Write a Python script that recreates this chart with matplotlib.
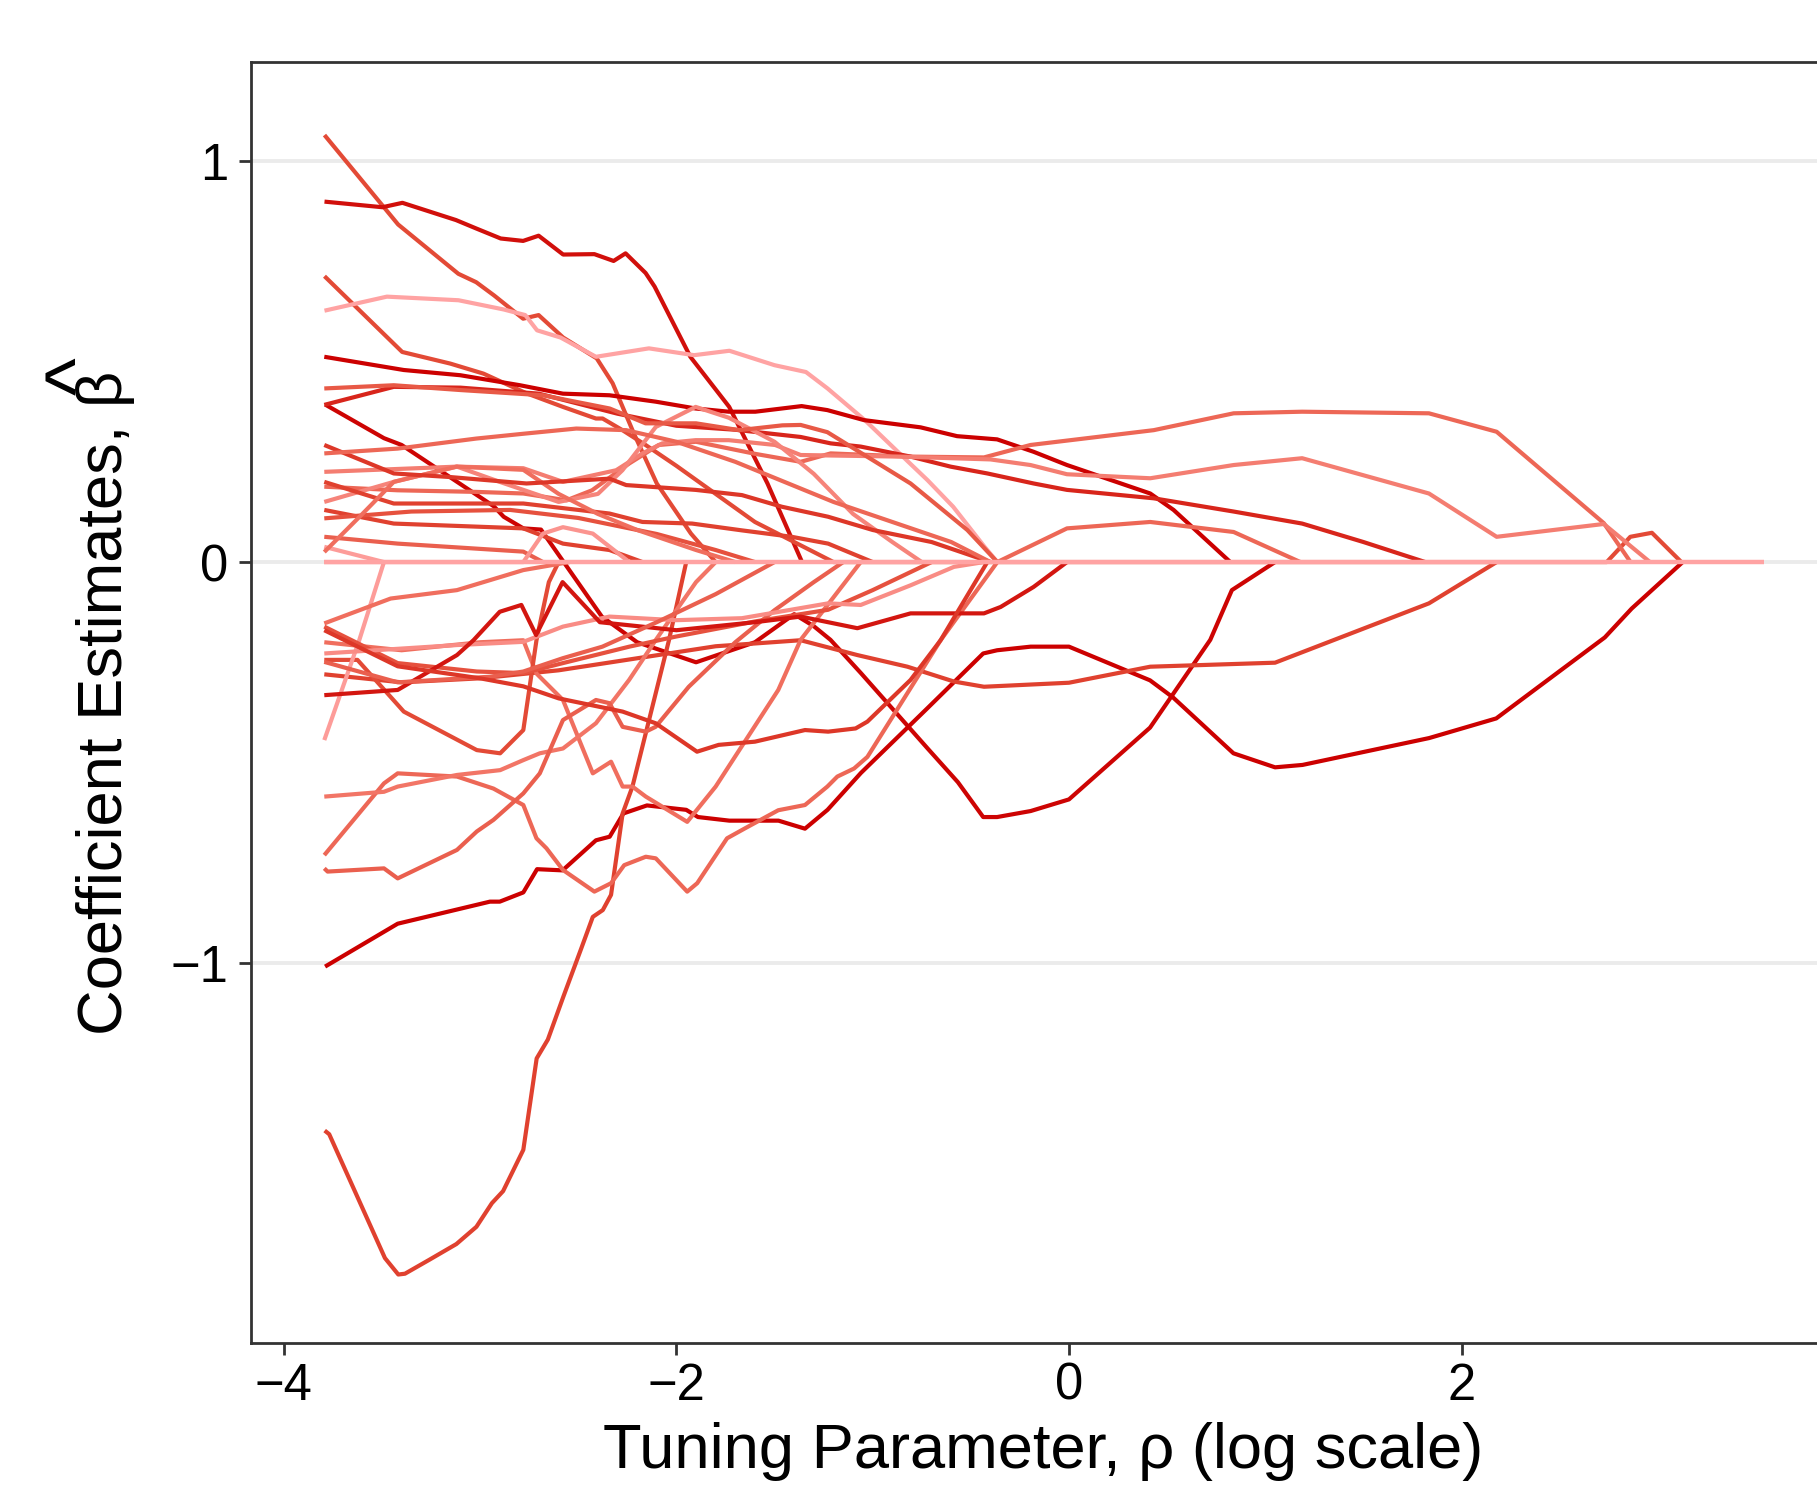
"""Lasso-style coefficient paths against log tuning parameter."""

import numpy as np
import matplotlib.pyplot as plt
from matplotlib.colors import LinearSegmentedColormap

plt.rcParams['font.family'] = ['Liberation Sans', 'DejaVu Sans']

# coefficient paths, (log rho, beta) knots
path_01 = [(-3.793, 1.065), (-3.418, 0.842), (-3.111, 0.719), (-3.02, 0.698), (-2.929, 0.665),
           (-2.781, 0.607), (-2.702, 0.616), (-2.577, 0.56), (-2.406, 0.508), (-2.325, 0.446),
           (-2.217, 0.321), (-2.1, 0.196), (-1.926, 0.071), (-1.8, 0.0)]
path_02 = [(-3.793, 0.899), (-3.498, 0.885), (-3.396, 0.896), (-3.123, 0.853), (-3.02, 0.832),
           (-2.895, 0.807), (-2.781, 0.801), (-2.702, 0.814), (-2.577, 0.767), (-2.418, 0.768),
           (-2.32, 0.751), (-2.259, 0.77), (-2.157, 0.721), (-2.111, 0.687), (-1.929, 0.512),
           (-1.731, 0.387), (-1.536, 0.196), (-1.36, 0.0)]
path_03 = [(-3.793, 0.713), (-3.397, 0.524), (-3.152, 0.495), (-2.983, 0.47), (-2.764, 0.421),
           (-2.578, 0.387), (-2.41, 0.358), (-2.376, 0.358), (-2.275, 0.329), (-2.157, 0.292),
           (-2.0, 0.24), (-1.8, 0.17), (-1.6, 0.1), (-1.4, 0.05), (-1.2, 0.0), (2.74, 0.0),
           (2.86, 0.063), (2.97, 0.073), (3.12, 0.0)]
path_04 = [(-3.793, 0.627), (-3.475, 0.662), (-3.11, 0.653), (-2.88, 0.63), (-2.77, 0.616),
           (-2.71, 0.578), (-2.59, 0.56), (-2.41, 0.512), (-2.14, 0.533), (-1.91, 0.516),
           (-1.73, 0.527), (-1.5, 0.491), (-1.34, 0.474), (-1.23, 0.433), (-1.04, 0.354),
           (-0.81, 0.246), (-0.72, 0.204), (-0.59, 0.138), (-0.43, 0.038), (-0.365, 0.0)]
path_05 = [(-3.794, 0.512), (-3.389, 0.479), (-3.101, 0.466), (-2.797, 0.441), (-2.578, 0.42),
           (-2.341, 0.416), (-2.105, 0.4), (-1.902, 0.383), (-1.733, 0.375), (-1.598, 0.375),
           (-1.362, 0.389), (-1.231, 0.379), (-1.044, 0.354), (-0.756, 0.336), (-0.57, 0.314),
           (-0.366, 0.306), (-0.18, 0.275), (-0.01, 0.242), (0.414, 0.171), (0.533, 0.13),
           (0.822, 0.0)]
path_06 = [(-3.79, 0.393), (-3.49, 0.309), (-3.40, 0.292), (-2.93, 0.139), (-2.88, 0.113),
           (-2.78, 0.084), (-2.69, 0.081), (-2.57, -0.003), (-2.38, -0.136), (-2.2, -0.2),
           (-1.9, -0.25), (-1.6, -0.2), (-1.4, -0.13), (-1.3, -0.16), (-1.215, -0.194),
           (-1.06, -0.277), (-0.72, -0.465), (-0.566, -0.549), (-0.437, -0.636), (-0.366, -0.636),
           (-0.195, -0.621), (0.0, -0.592), (0.413, -0.413), (0.72, -0.194), (0.83, -0.07),
           (1.05, 0.0)]
path_07 = [(-3.79, -1.009), (-3.42, -0.902), (-2.95, -0.847), (-2.90, -0.847), (-2.78, -0.824),
           (-2.71, -0.766), (-2.58, -0.769), (-2.41, -0.694), (-2.34, -0.685), (-2.27, -0.627),
           (-2.15, -0.607), (-1.95, -0.618), (-1.89, -0.636), (-1.73, -0.645), (-1.48, -0.645),
           (-1.345, -0.665), (-1.23, -0.618), (-1.06, -0.526), (-0.72, -0.364), (-0.437, -0.228),
           (-0.366, -0.22), (-0.195, -0.211), (0.0, -0.211), (0.413, -0.295), (0.531, -0.338),
           (0.838, -0.477), (1.05, -0.512), (1.19, -0.506), (1.835, -0.439), (2.177, -0.39),
           (2.73, -0.188), (2.867, -0.116), (3.127, 0.0)]
path_08 = [(-3.792, -1.418), (-3.769, -1.427), (-3.485, -1.736), (-3.417, -1.777), (-3.383, -1.775),
           (-3.258, -1.74), (-3.121, -1.701), (-3.019, -1.658), (-2.94, -1.599), (-2.883, -1.569),
           (-2.78, -1.466), (-2.712, -1.238), (-2.655, -1.191), (-2.576, -1.084), (-2.485, -0.964),
           (-2.426, -0.885), (-2.375, -0.868), (-2.333, -0.83), (-2.274, -0.627), (-2.224, -0.56),
           (-2.038, -0.195), (-1.95, 0.0)]
path_09 = [(-3.794, 0.188), (-3.42, 0.179), (-3.02, 0.175), (-2.78, 0.171), (-2.56, 0.154),
           (-2.43, 0.179), (-2.24, 0.246), (-2.09, 0.292), (-1.9, 0.3), (-1.6, 0.27),
           (-1.367, 0.25), (-1.214, 0.271), (-0.807, 0.263), (-0.433, 0.261), (-0.196, 0.292),
           (0.432, 0.329), (0.839, 0.371), (1.188, 0.375), (1.834, 0.371), (2.179, 0.325),
           (2.725, 0.097), (2.861, 0.0)]
path_10 = [(-3.794, 0.392), (-3.44, 0.437), (-3.1, 0.435), (-2.7, 0.42), (-2.3, 0.37),
           (-2.0, 0.34), (-1.7, 0.33), (-1.367, 0.312), (-1.214, 0.296), (-1.061, 0.288),
           (-0.807, 0.263), (-0.603, 0.238), (-0.416, 0.221), (-0.18, 0.196), (-0.01, 0.18),
           (0.432, 0.159), (0.839, 0.126), (1.188, 0.096), (1.5, 0.05), (1.815, 0.0)]
path_11 = [(-3.794, 0.225), (-3.118, 0.238), (-2.78, 0.234), (-2.578, 0.2), (-2.307, 0.229),
           (-2.173, 0.271), (-2.072, 0.296), (-1.902, 0.304), (-1.733, 0.304), (-1.497, 0.292),
           (-1.367, 0.267), (-0.858, 0.263), (-0.4, 0.256), (-0.196, 0.242), (-0.01, 0.219),
           (0.414, 0.209), (0.839, 0.242), (1.188, 0.259), (1.834, 0.171), (2.179, 0.063),
           (2.725, 0.095), (2.96, 0.0)]
path_12 = [(-3.794, -0.28), (-3.4, -0.3), (-3.0, -0.29), (-2.6, -0.27), (-2.2, -0.24),
           (-1.8, -0.21), (-1.367, -0.195), (-1.078, -0.232), (-0.823, -0.261), (-0.586, -0.298),
           (-0.433, -0.311), (0.0, -0.301), (0.414, -0.261), (1.05, -0.251), (1.834, -0.103),
           (2.179, 0.0)]
path_13 = [(-3.794, -0.731), (-3.49, -0.552), (-3.42, -0.527), (-3.118, -0.535), (-2.932, -0.565),
           (-2.78, -0.606), (-2.713, -0.689), (-2.662, -0.714), (-2.578, -0.768), (-2.418, -0.822),
           (-2.333, -0.801), (-2.266, -0.756), (-2.156, -0.735), (-2.105, -0.739), (-1.945, -0.822),
           (-1.894, -0.801), (-1.742, -0.689), (-1.65, -0.664), (-1.481, -0.619), (-1.345, -0.606),
           (-1.231, -0.56), (-1.18, -0.535), (-1.095, -0.515), (-1.027, -0.486), (-0.654, -0.195),
           (-0.365, 0.0), (-0.01, 0.084), (0.414, 0.1), (0.839, 0.075), (1.179, 0.0)]
path_14 = [(-3.794, -0.2), (-3.4, -0.22), (-3.0, -0.2), (-2.78, -0.195), (-2.713, -0.278),
           (-2.578, -0.344), (-2.426, -0.527), (-2.333, -0.498), (-2.274, -0.56), (-2.224, -0.56),
           (-2.156, -0.585), (-1.945, -0.648), (-1.8, -0.56), (-1.481, -0.319), (-1.367, -0.194),
           (-1.061, 0.0)]
path_15 = [(-3.794, -0.585), (-3.49, -0.573), (-3.42, -0.56), (-3.118, -0.531), (-2.898, -0.519),
           (-2.78, -0.494), (-2.696, -0.477), (-2.578, -0.465), (-2.41, -0.402), (-2.241, -0.294),
           (-2.106, -0.195), (-2.0, -0.12), (-1.9, -0.05), (-1.8, 0.0)]
path_16 = [(-3.794, 0.15), (-3.44, 0.2), (-3.118, 0.238), (-2.9, 0.2), (-2.6, 0.15),
           (-2.4, 0.17), (-2.275, 0.229), (-2.105, 0.337), (-1.902, 0.387), (-1.733, 0.36),
           (-1.5, 0.3), (-1.3, 0.22), (-1.1, 0.12), (-0.9, 0.05), (-0.75, 0.0)]
path_17 = [(-3.794, -0.764), (-3.777, -0.772), (-3.49, -0.764), (-3.42, -0.789), (-3.118, -0.718),
           (-3.017, -0.672), (-2.932, -0.643), (-2.78, -0.577), (-2.696, -0.527), (-2.578, -0.394),
           (-2.41, -0.344), (-2.341, -0.352), (-2.274, -0.411), (-2.156, -0.423), (-2.106, -0.411),
           (-1.937, -0.311), (-1.7, -0.2), (-1.5, -0.12), (-1.3, -0.05), (-1.15, 0.0)]
path_18 = [(-3.794, -0.244), (-3.625, -0.244), (-3.389, -0.373), (-3.017, -0.469), (-2.898, -0.477),
           (-2.78, -0.419), (-2.713, -0.195), (-2.65, -0.05), (-2.6, 0.0)]
path_19 = [(-3.794, -0.444), (-3.616, -0.195), (-3.49, 0.0)]
path_20 = [(-3.794, 0.038), (-3.49, 0.0)]
path_21 = [(-3.794, -0.153), (-3.456, -0.091), (-3.118, -0.07), (-2.78, -0.02), (-2.544, 0.0)]
path_22 = [(-3.794, -0.161), (-3.42, -0.252), (-3.017, -0.273), (-2.78, -0.277), (-2.578, -0.252),
           (-2.24, -0.211), (-2.004, -0.186), (-1.598, -0.148), (-1.227, -0.119), (-1.0, -0.07),
           (-0.7, 0.0)]
path_23 = [(-3.794, -0.228), (-3.118, -0.207), (-2.78, -0.199), (-2.578, -0.161), (-2.341, -0.136),
           (-2.004, -0.145), (-1.666, -0.14), (-1.227, -0.103), (-1.061, -0.107), (-0.807, -0.058),
           (-0.586, -0.012), (-0.433, 0.0)]
path_24 = [(-3.794, -0.332), (-3.42, -0.319), (-3.118, -0.232), (-3.034, -0.195), (-2.9, -0.124),
           (-2.79, -0.107), (-2.715, -0.182), (-2.58, -0.05), (-2.39, -0.15), (-2.0, -0.17),
           (-1.6, -0.15), (-1.367, -0.136), (-1.078, -0.165), (-0.807, -0.128), (-0.433, -0.128),
           (-0.348, -0.112), (-0.18, -0.062), (-0.01, 0.0)]
path_25 = [(-3.794, -0.249), (-3.42, -0.3), (-2.949, -0.286), (-2.78, -0.273), (-2.58, -0.24),
           (-2.377, -0.211), (-2.1, -0.15), (-1.8, -0.08), (-1.5, 0.0)]
path_26 = [(-3.794, 0.2), (-3.44, 0.146), (-2.78, 0.146), (-2.341, 0.121), (-2.173, 0.1),
           (-1.92, 0.096), (-1.666, 0.079), (-1.413, 0.063), (-1.227, 0.046), (-1.0, 0.0)]
path_27 = [(-3.794, 0.13), (-3.44, 0.096), (-2.78, 0.084), (-2.578, 0.046), (-2.341, 0.03),
           (-2.173, 0.0)]
path_28 = [(-3.794, 0.109), (-3.35, 0.126), (-2.847, 0.13), (-2.5, 0.11), (-2.1, 0.07),
           (-1.8, 0.03), (-1.6, 0.0)]
path_29 = [(-3.794, 0.063), (-3.42, 0.046), (-2.78, 0.026), (-2.68, 0.0)]
path_30 = [(-3.794, 0.025), (-3.6, 0.12), (-3.44, 0.2), (-3.12, 0.238), (-2.78, 0.23),
           (-2.6, 0.17), (-2.4, 0.12), (-2.2, 0.08), (-1.9, 0.03), (-1.7, 0.0)]
path_31 = [(-3.794, 0.0), (-2.78, 0.0), (-2.68, 0.071), (-2.578, 0.087), (-2.426, 0.071),
           (-2.24, 0.0)]
path_32 = [(-3.794, 0.292), (-3.44, 0.221), (-3.152, 0.212), (-2.764, 0.196), (-2.341, 0.208),
           (-2.256, 0.192), (-1.902, 0.18), (-1.666, 0.167), (-1.463, 0.138), (-1.227, 0.113),
           (-1.0, 0.08), (-0.7, 0.05), (-0.4, 0.0)]
path_33 = [(-3.794, 0.433), (-3.44, 0.441), (-3.1, 0.429), (-2.68, 0.416), (-2.34, 0.383),
           (-2.157, 0.346), (-1.9, 0.346), (-1.68, 0.329), (-1.46, 0.341), (-1.367, 0.342),
           (-1.231, 0.324), (-0.807, 0.196), (-0.518, 0.08), (-0.365, 0.0)]
path_34 = [(-3.794, 0.271), (-3.42, 0.283), (-3.02, 0.308), (-2.78, 0.32), (-2.51, 0.333),
           (-2.256, 0.329), (-2.0, 0.3), (-1.7, 0.25), (-1.45, 0.2), (-1.2, 0.15),
           (-0.9, 0.1), (-0.6, 0.05), (-0.4, 0.0)]
path_35 = [(-3.794, -0.17), (-3.42, -0.26), (-3.0, -0.29), (-2.78, -0.31), (-2.6, -0.34),
           (-2.274, -0.373), (-2.106, -0.402), (-1.895, -0.473), (-1.785, -0.456), (-1.6, -0.448),
           (-1.345, -0.419), (-1.227, -0.423), (-1.087, -0.415), (-1.027, -0.398), (-0.807, -0.294),
           (-0.654, -0.195), (-0.416, 0.0)]
path_zero = [(-3.794, 0.0), (3.54, 0.0)]

paths = [path_01, path_02, path_03, path_04, path_05, path_06, path_07, path_08, path_09,
         path_10, path_11, path_12, path_13, path_14, path_15, path_16, path_17, path_18,
         path_19, path_20, path_21, path_22, path_23, path_24, path_25, path_26, path_27,
         path_28, path_29, path_30, path_31, path_32, path_33, path_34, path_35]
# 0 = deep red, 1 = light pink
shades = [0.4, 0.08, 0.4, 1.0, 0.0, 0.02, 0.0, 0.35, 0.6,
          0.2, 0.75, 0.35, 0.6, 0.65, 0.7, 0.8, 0.55, 0.4,
          0.95, 0.95, 0.65, 0.45, 0.85, 0.12, 0.55, 0.35, 0.35,
          0.45, 0.55, 0.65, 0.9, 0.3, 0.5, 0.6, 0.3]

x_ticks = [-4, -2, 0, 2]
y_ticks = [-1, 0, 1]

cmap = LinearSegmentedColormap.from_list(
    'reds', [(0.0, '#CC0000'), (0.4, '#E34A36'), (0.7, '#F27566'), (1.0, '#FFA3A3')])

fig = plt.figure(figsize=(18.17, 14.88), dpi=100)
ax = fig.add_axes([0.1384, 0.0974, 0.8712, 0.8606])

for yt in y_ticks:
    ax.axhline(yt, color='#EBEBEB', lw=2.8, zorder=0)

for p, s in zip(paths, shades):
    xy = np.array(p)
    ax.plot(xy[:, 0], xy[:, 1], color=cmap(s), lw=3.0, solid_capstyle='butt', zorder=2)
xy = np.array(path_zero)
ax.plot(xy[:, 0], xy[:, 1], color=cmap(1.0), lw=3.2, solid_capstyle='butt', zorder=3)

ax.set_xlim(-4.165, 3.9)
ax.set_ylim(-1.948, 1.246)
ax.set_xticks(x_ticks)
ax.set_yticks(y_ticks)
ax.set_xticklabels(['\u22124', '\u22122', '0', '2'])
ax.set_yticklabels(['\u22121', '0', '1'])

for side in ax.spines.values():
    side.set_color('#333333')
    side.set_linewidth(2.0)
ax.tick_params(axis='both', length=8.5, width=2.0, color='#333333',
               labelsize=36.5, labelcolor='black')
ax.tick_params(axis='x', pad=5)
ax.tick_params(axis='y', pad=8)

ax.set_xlabel('Tuning Parameter, \u03c1 (log scale)', fontsize=45.5, labelpad=8)
ax.set_ylabel('Coefficient Estimates, \u03b2', fontsize=45.5, labelpad=26)
# plotmath-style hat sitting above the beta
fig.text(0.024, 0.747, '^', rotation=90, fontsize=58, ha='left', va='center')

fig.savefig('out.png', dpi=100)
